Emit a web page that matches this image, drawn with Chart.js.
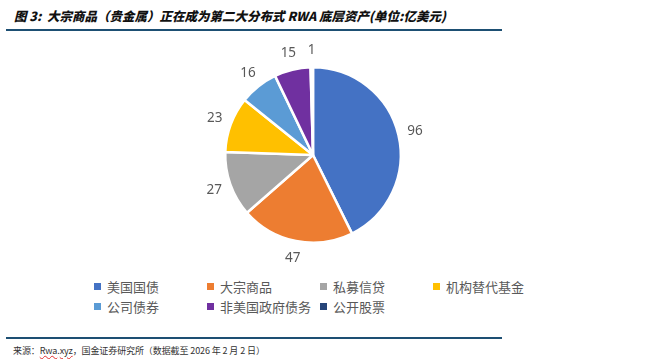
<!DOCTYPE html>
<html>
<head>
<meta charset="utf-8">
<script src="https://cdn.jsdelivr.net/npm/chart.js@4.4.1/dist/chart.umd.min.js"></script>
<style>
  html, body { margin:0; padding:0; background:#fff; }
  #wrap { position:relative; width:648px; height:359px; overflow:hidden; font-family:"Noto Sans CJK SC","Noto Sans",sans-serif; }
  #title { position:absolute; left:14px; top:6px; font-size:12.5px; font-weight:900; font-style:italic; color:#111; white-space:nowrap; letter-spacing:0px; }
  .rule { position:absolute; left:6px; width:496px; height:1.5px; background:#1d4f73; }
  #src { position:absolute; left:13px; top:344px; font-size:9px; color:#333; white-space:nowrap; letter-spacing:-0.1px; }
  #src u { text-decoration: underline wavy #e03030; text-decoration-thickness:1px; text-underline-offset:1px; }
  #chart { position:absolute; left:163px; top:35px; }
  .lg { position:absolute; font-size:13px; color:#595959; white-space:nowrap; line-height:16px; }
  .lg i { position:absolute; left:-13px; top:4px; width:7px; height:7px; }
</style>
</head>
<body>
<div id="wrap">
  <div id="title">图 3:&nbsp; 大宗商品（贵金属）正在成为第二大分布式 RWA 底层资产(单位:亿美元)</div>
  <div class="rule" style="top:29px"></div>
  <canvas id="chart" width="300" height="240"></canvas>
  <div id="legend"></div>
  <div class="rule" style="top:337px"></div>
  <div id="src">来源：<u>Rwa</u>.<u>xyz</u>，国金证券研究所（数据截至 2026 年 2 月 2 日）</div>
</div>
<script>
const categories = ["美国国债", "大宗商品", "私募信贷", "机构替代基金", "公司债券", "非美国政府债务", "公开股票"];
const values = [96, 47, 27, 23, 16, 15, 1];
const colors = ["#4472C4", "#ED7D31", "#A5A5A5", "#FFC000", "#5B9BD5", "#7030A0", "#264478"];

// HTML legend (4 columns x 2 rows)
const legendEl = document.getElementById('legend');
const colX = [107, 220, 333, 446];
const rowY = [279, 299];
categories.forEach((c, i) => {
  const d = document.createElement('div');
  d.className = 'lg';
  d.style.left = colX[i % 4] + 'px';
  d.style.top = rowY[Math.floor(i / 4)] + 'px';
  d.innerHTML = '<i style="background:' + colors[i] + '"></i>' + c;
  legendEl.appendChild(d);
});

const outsideLabels = {
  id: 'outsideLabels',
  afterDatasetsDraw(chart) {
    const ctx = chart.ctx;
    const meta = chart.getDatasetMeta(0);
    ctx.save();
    ctx.font = '13.5px "Noto Sans", "Noto Sans CJK SC", sans-serif';
    ctx.fillStyle = '#595959';
    ctx.textAlign = 'center';
    ctx.textBaseline = 'middle';
    meta.data.forEach((arc, i) => {
      const p = arc.getProps(['x', 'y', 'startAngle', 'endAngle', 'outerRadius'], true);
      const mid = (p.startAngle + p.endAngle) / 2;
      const r = p.outerRadius + 17;
      ctx.fillText(String(values[i]), p.x + Math.cos(mid) * r, p.y + Math.sin(mid) * r);
    });
    ctx.restore();
  }
};

new Chart(document.getElementById('chart'), {
  type: 'pie',
  data: {
    labels: categories,
    datasets: [{
      data: values,
      backgroundColor: colors,
      borderColor: '#ffffff',
      borderWidth: 2.5
    }]
  },
  options: {
    responsive: false,
    animation: false,
    devicePixelRatio: 1,
    layout: { padding: { top: 31, bottom: 31, left: 0, right: 0 } },
    plugins: { legend: { display: false }, tooltip: { enabled: false } }
  },
  plugins: [outsideLabels]
});
</script>
</body>
</html>
